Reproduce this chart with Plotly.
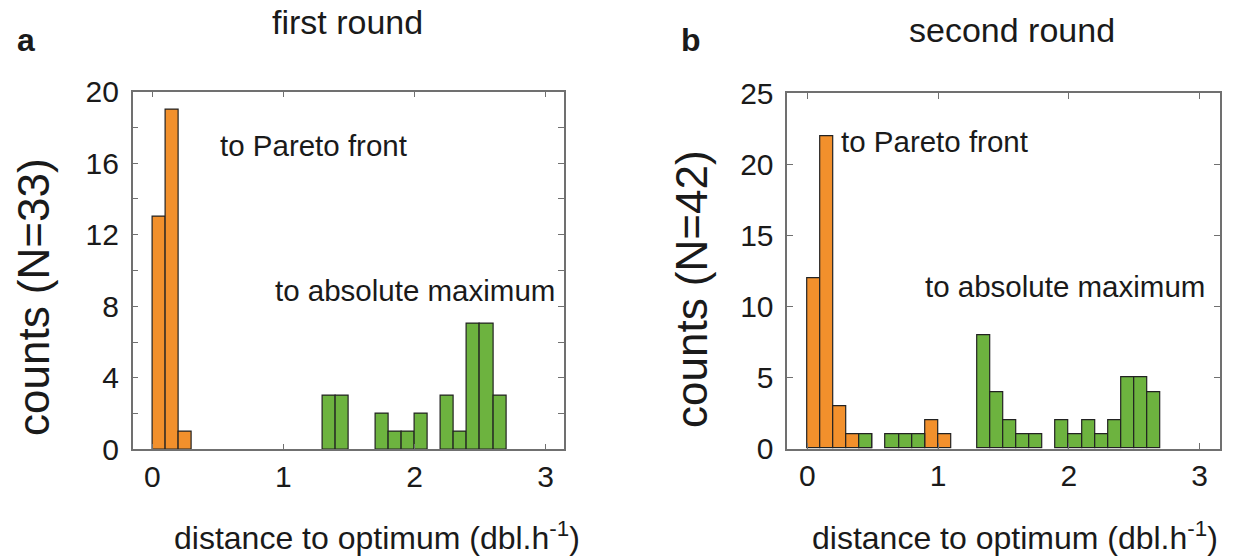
import plotly.graph_objects as go

# ---- data: histogram bins (left edge, width 0.1) and counts ----
bin_width = 0.1

a_orange_left = [0.0, 0.1, 0.2]
a_orange_counts = [13, 19, 1]
a_green_left = [1.3, 1.4, 1.7, 1.8, 1.9, 2.0, 2.2, 2.3, 2.4, 2.5, 2.6]
a_green_counts = [3, 3, 2, 1, 1, 2, 3, 1, 7, 7, 3]

b_orange_left = [0.0, 0.1, 0.2, 0.3, 0.4, 0.9, 1.0]
b_orange_counts = [12, 22, 3, 1, 1, 2, 1]
b_green_left = [0.4, 0.6, 0.7, 0.8, 1.3, 1.4, 1.5, 1.6, 1.7, 1.9, 2.0, 2.1, 2.2, 2.3, 2.4, 2.5, 2.6]
b_green_counts = [1, 1, 1, 1, 8, 4, 2, 1, 1, 2, 1, 2, 1, 2, 5, 5, 4]

x_ticks = [0, 1, 2, 3]
a_y_ticks = [0, 4, 8, 12, 16, 20]
b_y_ticks = [0, 5, 10, 15, 20, 25]

panel_titles = ["first round", "second round"]
panel_letters = ["a", "b"]
y_titles = ["counts (N=33)", "counts (N=42)"]
x_title = "distance to optimum (dbl.h<sup>-1</sup>)"
label_front = "to Pareto front"
label_max = "to absolute maximum"

ORANGE = "#F2902C"
GREEN = "#6DB33F"
EDGE = "#222222"
FRAME = "#707070"
TXT = "#1a1a1a"
FONT = "Liberation Sans, Arial, sans-serif"

W, H = 1246, 560

fig = go.Figure()

def add_bars(left, counts, color, xa, ya):
    fig.add_trace(go.Bar(
        x=left, y=counts, width=[bin_width] * len(left), offset=0,
        marker=dict(color=color, line=dict(color=EDGE, width=1.2)),
        xaxis=xa, yaxis=ya, showlegend=False, hoverinfo="x+y"))

add_bars(a_orange_left, a_orange_counts, ORANGE, "x", "y")
add_bars(a_green_left, a_green_counts, GREEN, "x", "y")
add_bars(b_orange_left, b_orange_counts, ORANGE, "x2", "y2")
add_bars(b_green_left, b_green_counts, GREEN, "x2", "y2")

def px_x(p):
    return p / W

def px_y(p):
    return 1 - p / H

axis_common = dict(
    showline=True, linecolor=FRAME, linewidth=1.5, mirror="ticks",
    ticks="inside", ticklen=6, tickwidth=1, tickcolor=FRAME,
    showgrid=False, zeroline=False, automargin=False,
    tickfont=dict(family=FONT, size=30, color=TXT),
)

fig.update_layout(
    template="none",
    width=W, height=H, autosize=False,
    margin=dict(l=0, r=0, t=0, b=0, pad=0),
    paper_bgcolor="white", plot_bgcolor="white",
    barmode="overlay", bargap=0, showlegend=False,
    font=dict(family=FONT, color=TXT),
    xaxis=dict(domain=[px_x(132.7), px_x(564)], range=[-0.15, 3.14],
               tickvals=x_ticks, anchor="y", ticklabelstandoff=0, **axis_common),
    yaxis=dict(domain=[px_y(449.3), px_y(91.7)], range=[0, 20],
               tickvals=a_y_ticks, anchor="x", ticklabelstandoff=6,
               minor=dict(dtick=2, ticks="inside", ticklen=6, tickcolor=FRAME, showgrid=False),
               **axis_common),
    xaxis2=dict(domain=[px_x(787.3), px_x(1220)], range=[-0.153, 3.157],
                tickvals=x_ticks, anchor="y2", ticklabelstandoff=0, **axis_common),
    yaxis2=dict(domain=[px_y(448.7), px_y(93.3)], range=[0, 25],
                tickvals=b_y_ticks, anchor="x2", ticklabelstandoff=6, **axis_common),
)

def paper_text(text, x, y, size, angle=0):
    return dict(text=text, x=px_x(x), y=px_y(y), xref="paper", yref="paper",
                xanchor="center", yanchor="middle", textangle=angle,
                showarrow=False, font=dict(size=size, family=FONT, color=TXT))

def data_text(text, x, y, xr, yr):
    return dict(text=text, x=x, y=y, xref=xr, yref=yr, xanchor="left", yanchor="middle",
                showarrow=False, font=dict(size=29.5, family=FONT, color=TXT))

ann = [
    paper_text(panel_titles[0], 348, 22, 34),
    paper_text(panel_titles[1], 1012, 30, 34),
    paper_text("<b>%s</b>" % panel_letters[0], 26, 40, 32),
    paper_text("<b>%s</b>" % panel_letters[1], 691, 40, 32),
    paper_text(y_titles[0], 33, 297, 44, -90),
    paper_text(y_titles[1], 691, 289, 44, -90),
    paper_text(x_title, 377, 536, 32),
    paper_text(x_title, 1015, 536, 32),
    data_text(label_front, 0.50, 17.0, "x", "y"),
    data_text(label_max, 0.92, 8.86, "x", "y"),
    data_text(label_front, 0.243, 21.6, "x2", "y2"),
    data_text(label_max, 0.885, 11.4, "x2", "y2"),
]
fig.update_layout(annotations=ann)

fig.write_html("out.html", config={"displayModeBar": False},
               post_script="document.body.style.margin='0';")
